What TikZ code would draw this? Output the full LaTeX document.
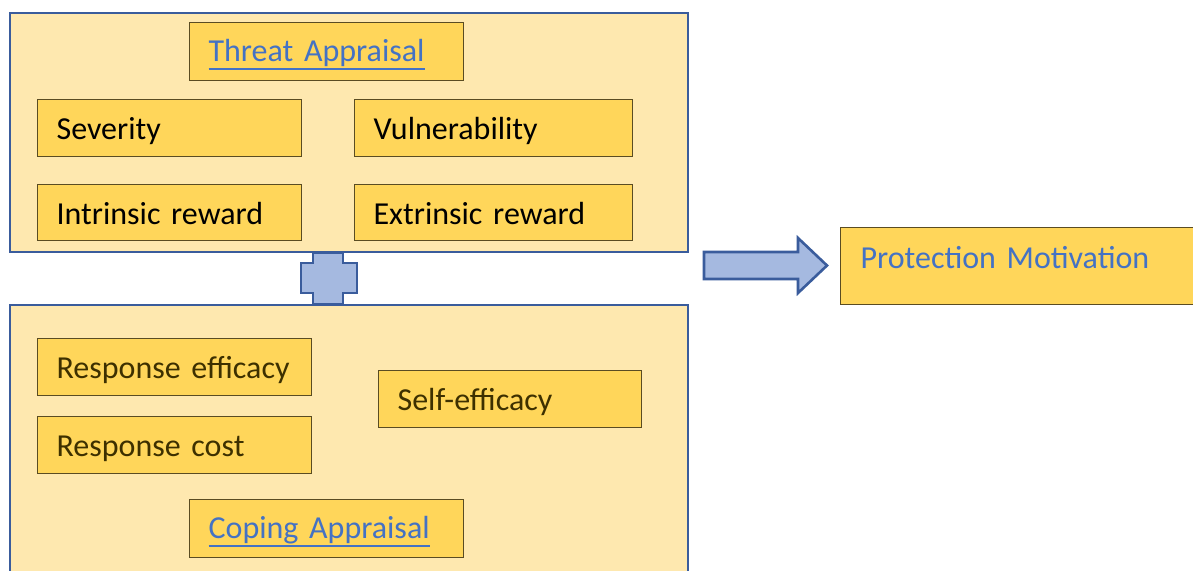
\documentclass[tikz,border=0pt]{standalone}
\usepackage{fontspec}
\setmainfont{Carlito}
\definecolor{panelfill}{HTML}{FEE8AF}
\definecolor{panelline}{HTML}{3A5C9C}
\definecolor{itemfill}{HTML}{FFD65A}
\definecolor{itemline}{HTML}{5A4C22}
\definecolor{linkblue}{HTML}{4472C4}
\definecolor{arrowfill}{HTML}{A5B9E0}
\definecolor{darktext}{HTML}{3D3000}
% underlined link-style heading
\newcommand\linktext[1]{\textcolor{linkblue}{\setbox0\hbox{#1}\rlap{\rule[-8pt]{\wd0}{1.6pt}}\box0}}
\tikzset{
  panel/.style={draw=panelline, line width=2.6pt, fill=panelfill},
  item/.style 2 args={draw=itemline, line width=1.2pt, fill=itemfill, anchor=north west,
    inner xsep=19pt, inner ysep=0pt, align=left,
    minimum width=#1, text width=#1-38pt, minimum height=#2,
    text height=40pt, text depth=#2-40pt,
    font=\fontsize{32}{38}\selectfont},
  blockarrow/.style={draw=panelline, line width=2.6pt, fill=arrowfill, line join=miter}
}
\begin{document}
\begin{tikzpicture}[x=1pt, y=-1pt]
\clip (0,0) rectangle (1193,570);
\fill[white] (0,0) rectangle (1193,570);

% threat appraisal panel
\draw[panel] (10,13) rectangle (688,252);
\node[item={274pt}{58pt}, text height=39pt, text depth=19pt] (threat) at (189,22) {\linktext{Threat Appraisal}};
\node[item={264pt}{57pt}] (sev) at (37,99) {Severity};
\node[item={278pt}{57pt}] (vul) at (354,99) {Vulnerability};
\node[item={264pt}{56pt}] (intr) at (37,184) {Intrinsic reward};
\node[item={278pt}{56pt}] (extr) at (354,184) {Extrinsic reward};

% coping appraisal panel
\draw[panel] (10,305) rectangle (688,600);
\node[item={274pt}{57pt}, text=darktext] (reff) at (37,338) {Response efficacy};
\node[item={274pt}{57pt}, text=darktext] (rcost) at (37,416) {Response cost};
\node[item={263pt}{57pt}, text=darktext] (seff) at (378,370) {Self-efficacy};
\node[item={274pt}{58pt}, text height=39pt, text depth=19pt] (coping) at (189,499) {\linktext{Coping Appraisal}};

% plus sign joining the two panels
\draw[blockarrow] (313,253) -- (343,253) -- (343,263) -- (357,263) -- (357,293)
  -- (343,293) -- (343,304) -- (313,304) -- (313,293) -- (301,293) -- (301,263)
  -- (313,263) -- cycle;

% block arrow towards the outcome
\draw[blockarrow] (704,252) -- (798,252) -- (798,238) -- (827,265.5) -- (798,293)
  -- (798,279) -- (704,279) -- cycle;

% outcome
\node[item={360pt}{77pt}, text height=41pt, text depth=36pt, inner xsep=20pt,
  text=linkblue] (pm) at (840,227) {Protection Motivation};
\end{tikzpicture}
\end{document}
